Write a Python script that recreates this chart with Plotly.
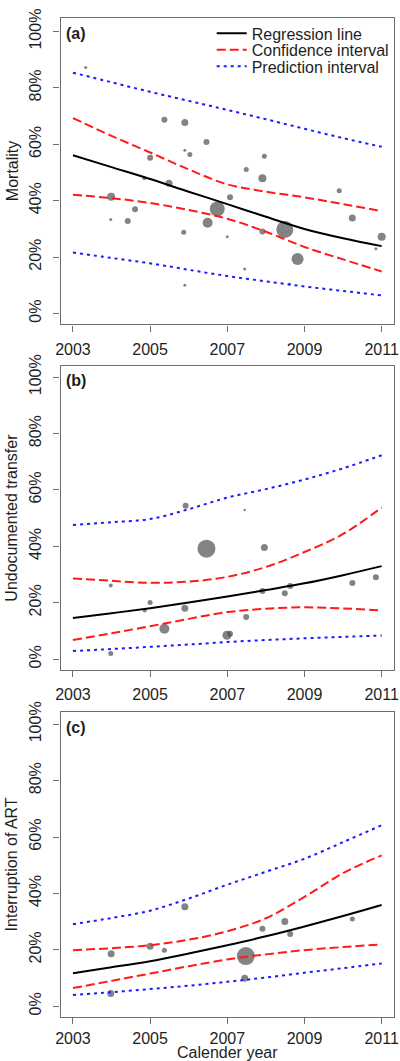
import plotly.graph_objects as go

# ---------------- data ----------------
line_years = [2003, 2004, 2005, 2006, 2007, 2008, 2009, 2010, 2011]

# Panel (a) Mortality
a_reg = [0.561, 0.519, 0.477, 0.432, 0.388, 0.343, 0.300, 0.267, 0.239]
a_ci_hi = [0.693, 0.630, 0.571, 0.511, 0.458, 0.432, 0.412, 0.388, 0.363]
a_ci_lo = [0.421, 0.409, 0.392, 0.367, 0.336, 0.290, 0.236, 0.192, 0.149]
a_pi_hi = [0.854, 0.820, 0.786, 0.754, 0.722, 0.689, 0.655, 0.622, 0.591]
a_pi_lo = [0.2165, 0.197, 0.178, 0.155, 0.133, 0.114, 0.096, 0.080, 0.0645]
a_px = [2003.33, 2005.37, 2005.90, 2006.46, 2005.90, 2006.03, 2005.00, 2007.96, 2007.49,
        2007.91, 2004.85, 2005.49, 2009.90, 2003.99, 2003.98, 2004.42, 2004.61, 2005.87,
        2005.90, 2006.49, 2006.74, 2007.07, 2007.00, 2007.45, 2007.91, 2008.49, 2008.61,
        2008.82, 2010.24, 2010.85, 2011.00]
a_py = [0.872, 0.687, 0.677, 0.608, 0.579, 0.564, 0.552, 0.558, 0.511,
        0.480, 0.480, 0.462, 0.435, 0.414, 0.333, 0.328, 0.370, 0.288,
        0.100, 0.322, 0.371, 0.412, 0.272, 0.158, 0.291, 0.298, 0.105,
        0.193, 0.339, 0.230, 0.272]
a_pn = [3, 6, 7, 6, 3, 5, 6, 5, 5,
        8, 4, 7, 5, 8, 3, 6, 6, 5,
        3, 10, 15, 6, 3, 3, 6, 17, 3,
        12, 7, 3, 8]

# Panel (b) Undocumented transfer
b_reg = [0.146, 0.163, 0.181, 0.201, 0.222, 0.245, 0.269, 0.298, 0.330]
b_ci_hi = [0.2865, 0.278, 0.271, 0.275, 0.292, 0.327, 0.380, 0.444, 0.538]
b_ci_lo = [0.068, 0.092, 0.117, 0.143, 0.167, 0.179, 0.184, 0.180, 0.173]
b_pi_hi = [0.476, 0.486, 0.497, 0.532, 0.573, 0.603, 0.637, 0.677, 0.723]
b_pi_lo = [0.029, 0.036, 0.044, 0.052, 0.061, 0.068, 0.074, 0.079, 0.084]
b_px = [2005.92, 2007.45, 2006.46, 2007.96, 2003.98, 2005.00, 2004.86, 2005.90, 2005.37,
        2006.99, 2007.07, 2007.49, 2007.91, 2008.49, 2008.63, 2010.24, 2010.85, 2003.98]
b_py = [0.544, 0.529, 0.392, 0.396, 0.261, 0.201, 0.173, 0.181, 0.108,
        0.085, 0.090, 0.150, 0.242, 0.234, 0.260, 0.270, 0.291, 0.020]
b_pn = [6, 2.5, 18, 7, 4, 5, 4, 7, 10,
        9, 6, 6, 6, 6, 6, 6, 6, 5]

# Panel (c) Interruption of ART
c_reg = [0.117, 0.138, 0.160, 0.187, 0.2165, 0.248, 0.283, 0.320, 0.359]
c_ci_hi = [0.199, 0.206, 0.2165, 0.236, 0.266, 0.312, 0.388, 0.472, 0.535]
c_ci_lo = [0.0645, 0.090, 0.116, 0.142, 0.166, 0.184, 0.199, 0.210, 0.219]
c_pi_hi = [0.291, 0.313, 0.339, 0.382, 0.431, 0.477, 0.523, 0.582, 0.642]
c_pi_lo = [0.040, 0.050, 0.061, 0.073, 0.0867, 0.102, 0.119, 0.135, 0.152]
c_px = [2005.90, 2003.99, 2005.00, 2005.37, 2007.48, 2007.45, 2007.91, 2008.49, 2008.63,
        2010.24, 2003.98]
c_py = [0.353, 0.186, 0.213, 0.199, 0.178, 0.0996, 0.275, 0.301, 0.256,
        0.309, 0.0456]
c_pn = [7, 7, 7, 5, 18, 7, 6, 7, 6,
        5, 7]

panel_tags = ["(a)", "(b)", "(c)"]
panel_titles = ["Mortality", "Undocumented transfer", "Interruption of ART"]
x_ticks = [2003, 2005, 2007, 2009, 2011]
y_ticks = [0, 0.2, 0.4, 0.6, 0.8, 1.0]
y_ticktext = ["0%", "20%", "40%", "60%", "80%", "100%"]
x_title = "Calender year"
legend_names = ["Regression line", "Confidence interval", "Prediction interval"]

# ---------------- layout geometry ----------------
W, H = 400, 1061
frames = [(7.3, 316.7), (358.3, 666.0), (708.3, 1016.7)]  # top, bottom in px
zero_px = [305.7, 655.0, 1005.7]
x_label_standoff = [4, 4, 0]
px_per_unit = 285.0
x_left, x_right = 57, 399
legend_rows_px = [22.7, 39.3, 56.0]
legend_left_px = 212

FONT = "Liberation Sans, Arial, Helvetica, sans-serif"
FRAME_COL = "#6e6e6e"
TXT_COL = "#1e1e1e"
PT_COL = "#4f4f4f"
RED = "#ff1a1a"
BLUE = "#1a1aff"

panels = [
    (a_reg, a_ci_hi, a_ci_lo, a_pi_hi, a_pi_lo, a_px, a_py, a_pn),
    (b_reg, b_ci_hi, b_ci_lo, b_pi_hi, b_pi_lo, b_px, b_py, b_pn),
    (c_reg, c_ci_hi, c_ci_lo, c_pi_hi, c_pi_lo, c_px, c_py, c_pn),
]

fig = go.Figure()
annotations = []
for i, (reg, cih, cil, pih, pil, px, py, pn) in enumerate(panels):
    xa = "x" if i == 0 else f"x{i+1}"
    ya = "y" if i == 0 else f"y{i+1}"
    first = i == 0
    fig.add_trace(go.Scatter(x=px, y=py, mode="markers", xaxis=xa, yaxis=ya,
                             marker=dict(size=pn, color=PT_COL, line=dict(width=0)),
                             showlegend=False, hoverinfo="skip"))
    fig.add_trace(go.Scatter(x=line_years, y=reg, mode="lines", xaxis=xa, yaxis=ya,
                             line=dict(color="black", width=2, shape="spline"),
                             name=legend_names[0], showlegend=first, legend="legend"))
    fig.add_trace(go.Scatter(x=line_years, y=cih, mode="lines", xaxis=xa, yaxis=ya,
                             line=dict(color=RED, width=2, dash="9px,4px", shape="spline"),
                             name=legend_names[1], showlegend=first, legend="legend2"))
    fig.add_trace(go.Scatter(x=line_years, y=cil, mode="lines", xaxis=xa, yaxis=ya,
                             line=dict(color=RED, width=2, dash="9px,4px", shape="spline"),
                             name=legend_names[1], showlegend=False))
    fig.add_trace(go.Scatter(x=line_years, y=pih, mode="lines", xaxis=xa, yaxis=ya,
                             line=dict(color=BLUE, width=2, dash="3px,4px", shape="spline"),
                             name=legend_names[2], showlegend=first, legend="legend3"))
    fig.add_trace(go.Scatter(x=line_years, y=pil, mode="lines", xaxis=xa, yaxis=ya,
                             line=dict(color=BLUE, width=2, dash="3px,4px", shape="spline"),
                             name=legend_names[2], showlegend=False))

    top, bot = frames[i]
    z = zero_px[i]
    y_lo = -(bot - z) / px_per_unit
    y_hi = (z - top) / px_per_unit
    xr0 = 2003 - (2011 - 2003) * 0.04
    xr1 = 2011 + (2011 - 2003) * 0.04
    axis_common = dict(showline=True, mirror=True, linecolor=FRAME_COL, linewidth=1.3,
                       ticks="outside", ticklen=6, tickwidth=1.2, tickcolor=FRAME_COL,
                       showgrid=False, zeroline=False, ticklabeloverflow="allow",
                       tickfont=dict(family=FONT, size=16, color=TXT_COL))
    fig.layout[("xaxis" if i == 0 else f"xaxis{i+1}")] = dict(
        domain=[x_left / W, x_right / W], range=[xr0, xr1],
        tickvals=x_ticks, ticktext=[str(v) for v in x_ticks],
        anchor=ya, ticklabelstandoff=x_label_standoff[i], **axis_common)
    fig.layout[("yaxis" if i == 0 else f"yaxis{i+1}")] = dict(
        domain=[1 - bot / H, 1 - top / H], range=[y_lo, y_hi],
        tickvals=y_ticks, ticktext=y_ticktext, tickangle=-90,
        anchor=xa, ticklabelstandoff=6, **axis_common)

    annotations.append(dict(text=f"<b>{panel_tags[i]}</b>", xref="paper", yref="paper",
                            x=61 / W, y=1 - (top + 15.5) / H, xanchor="left", yanchor="middle",
                            showarrow=False, font=dict(family=FONT, size=16, color=TXT_COL)))
    annotations.append(dict(text=panel_titles[i], xref="paper", yref="paper",
                            x=7 / W, y=1 - ((top + bot) / 2) / H, xanchor="center",
                            yanchor="middle", textangle=-90, showarrow=False,
                            font=dict(family=FONT, size=16, color=TXT_COL)))

annotations.append(dict(text=x_title, xref="paper", yref="paper",
                        x=(x_left + x_right) / 2 / W, y=1 - 1052.5 / H,
                        xanchor="center", yanchor="middle", showarrow=False,
                        height=17, borderpad=0, valign="middle",
                        font=dict(family=FONT, size=16, color=TXT_COL)))

leg_common = dict(xanchor="left", yanchor="middle", bgcolor="rgba(0,0,0,0)", borderwidth=0,
                  font=dict(family=FONT, size=16, color=TXT_COL), itemwidth=30)

fig.update_layout(
    width=W, height=H,
    margin=dict(l=0, r=0, t=0, b=0),
    paper_bgcolor="white", plot_bgcolor="white",
    annotations=annotations,
    legend=dict(x=legend_left_px / W, y=1 - legend_rows_px[0] / H, **leg_common),
    legend2=dict(x=legend_left_px / W, y=1 - legend_rows_px[1] / H, **leg_common),
    legend3=dict(x=legend_left_px / W, y=1 - legend_rows_px[2] / H, **leg_common),
    font=dict(family=FONT, size=16, color=TXT_COL),
)

fig.write_html("out.html", config={"displayModeBar": False},
               post_script="document.body.style.margin='0';")
